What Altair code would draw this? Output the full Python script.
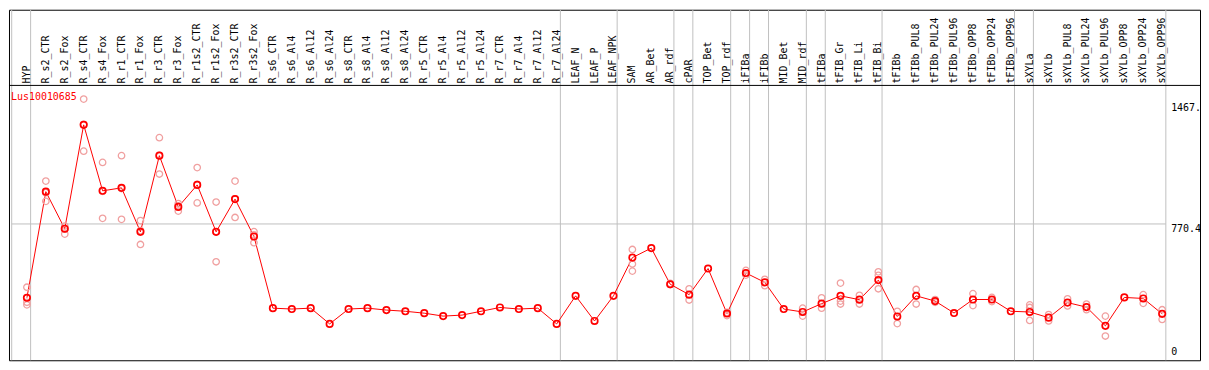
import altair as alt
import pandas as pd

gene = "Lus10010685"

categories = [
    "HYP", "R_s2_CTR", "R_s2_Fox", "R_s4_CTR", "R_s4_Fox", "R_r1_CTR", "R_r1_Fox",
    "R_r3_CTR", "R_r3_Fox", "R_r1s2_CTR", "R_r1s2_Fox", "R_r3s2_CTR", "R_r3s2_Fox",
    "R_s6_CTR", "R_s6_Al4", "R_s6_Al12", "R_s6_Al24", "R_s8_CTR", "R_s8_Al4",
    "R_s8_Al12", "R_s8_Al24", "R_r5_CTR", "R_r5_Al4", "R_r5_Al12", "R_r5_Al24",
    "R_r7_CTR", "R_r7_Al4", "R_r7_Al12", "R_r7_Al24", "LEAF_N", "LEAF_P", "LEAF_NPK",
    "SAM", "AR_Bet", "AR_rdf", "cPAR", "TOP_Bet", "TOP_rdf", "iFIBa", "iFIBb",
    "MID_Bet", "MID_rdf", "tFIBa", "tFIB_Gr", "tFIB_Li", "tFIB_Bi", "tFIBb",
    "tFIBb_PUL8", "tFIBb_PUL24", "tFIBb_PUL96", "tFIBb_OPP8", "tFIBb_OPP24",
    "tFIBb_OPP96", "sXYLa", "sXYLb", "sXYLb_PUL8", "sXYLb_PUL24", "sXYLb_PUL96",
    "sXYLb_OPP8", "sXYLb_OPP24", "sXYLb_OPP96",
]

mean_values = [
    344, 957, 743, 1343, 962, 979, 725, 1165, 869, 996, 725, 914, 698,
    284, 279, 284, 193, 279, 284, 273, 266, 255, 238, 244, 266, 288, 279, 284, 193,
    355, 210, 355,
    576, 631, 422, 362, 513, 253, 487, 433, 279, 262,
    310, 355, 333, 446, 236, 355, 325, 256, 334, 334, 266,
    262, 229, 316, 290, 182, 346, 340, 251,
]

rep_index = [
    0, 0, 0, 1, 1, 1, 2, 2, 2, 3, 3, 3, 4, 4, 4, 5, 5, 5, 6, 6, 6,
    7, 7, 7, 8, 8, 8, 9, 9, 9, 10, 10, 10, 11, 11, 11, 12, 12, 12,
    32, 32, 32, 34, 34, 35, 35, 37, 37, 38, 38, 39, 39, 41, 41,
    42, 42, 43, 43, 43, 44, 44, 45, 45, 45, 46, 46, 47, 47, 48, 48,
    50, 50, 51, 51, 53, 53, 53, 54, 54, 55, 55, 56, 56, 57, 57, 59, 59, 60, 60,
]
rep_values = [
    405, 318, 303, 1018, 951, 901, 758, 741, 712, 1492, 1346, 1191, 1126, 959, 803,
    1165, 975, 797, 790, 732, 652, 1269, 1166, 1059, 888, 875, 845, 1096, 999, 892,
    897, 725, 552, 1018, 916, 808, 726, 708, 662,
    623, 539, 498, 427, 420, 396, 331, 259, 241, 502, 475, 451, 414, 284, 238,
    344, 284, 429, 325, 308, 358, 308, 494, 474, 396, 266, 195, 392, 308, 334, 318,
    368, 299, 346, 322, 303, 288, 213, 247, 210, 338, 297, 308, 275, 238, 123,
    362, 312, 275, 219,
]

separator_after = [-1, 0, 28, 31, 34, 35, 37, 38, 39, 41, 42, 45, 52, 53, 60]

tick_values = [1467.0, 770.4]
tick_labels = ["1467.", "770.4"]
zero_value = [0.0]
zero_label = ["0"]
grid_values = [770.4]

W, H = 1196, 352
xs = alt.Scale(domain=[-0.947368, 62.0], nice=False, zero=False)
ys = alt.Scale(domain=[-17.0, 2008.0], nice=False, zero=False)

means_df = pd.DataFrame({"i": list(range(len(categories))), "cat": categories, "v": mean_values})
reps_df = pd.DataFrame({"i": rep_index, "v": rep_values})
sep_df = pd.DataFrame({"x": [s + 0.195 for s in separator_after]})
grid_df = pd.DataFrame({"x": [separator_after[0] + 0.195] * len(grid_values),
                        "x2": [separator_after[-1] + 0.195] * len(grid_values),
                        "v": grid_values})
ticks_df = pd.DataFrame({"v": tick_values, "t": tick_labels})
zero_df = pd.DataFrame({"v": zero_value, "t": zero_label})
one_df = pd.DataFrame({"t": [gene]})

X = lambda f: alt.X(f, scale=xs, axis=None)
Y = lambda f: alt.Y(f, scale=ys, axis=None)

vlines = alt.Chart(sep_df).mark_rule(color="#c0c0c0", strokeWidth=1).encode(
    x=X("x:Q"), y=alt.value(0), y2=alt.value(H))
hgrid = alt.Chart(grid_df).mark_rule(color="#c0c0c0", strokeWidth=1).encode(
    x=X("x:Q"), x2="x2:Q", y=Y("v:Q"))
header_line = alt.Chart(one_df).mark_rule(color="black", strokeWidth=1).encode(
    x=alt.value(0), x2=alt.value(W), y=alt.value(76))
line = alt.Chart(means_df).mark_line(color="red", strokeWidth=1).encode(
    x=X("i:Q"), y=Y("v:Q"), order="i:Q")
reps = alt.Chart(reps_df).mark_point(shape="circle", filled=False, color="#f0a0a0",
                                      size=42, strokeWidth=1.3, opacity=1).encode(
    x=X("i:Q"), y=Y("v:Q"))
mean_pts = alt.Chart(means_df).mark_point(shape="circle", filled=False, color="red",
                                          size=42, strokeWidth=1.7, opacity=1).encode(
    x=X("i:Q"), y=Y("v:Q"))
labels = alt.Chart(means_df).mark_text(angle=270, align="left", baseline="middle",
                                       font="DejaVu Sans Mono", fontSize=10,
                                       color="black").encode(
    x=X("i:Q"), y=alt.value(74), text="cat:N")
ticks = alt.Chart(ticks_df).mark_text(align="left", baseline="top",
                                      font="DejaVu Sans Mono", fontSize=10,
                                      color="black").encode(
    x=alt.value(1167), y=Y("v:Q"), text="t:N")
zero = alt.Chart(zero_df).mark_text(align="left", baseline="bottom",
                                    font="DejaVu Sans Mono", fontSize=10,
                                    color="black").encode(
    x=alt.value(1167), y=Y("v:Q"), text="t:N")
title = alt.Chart(one_df).mark_text(align="left", baseline="middle",
                                    font="DejaVu Sans Mono", fontSize=10,
                                    color="red").encode(
    x=alt.value(2), y=alt.value(88), text="t:N")

chart = alt.layer(vlines, hgrid, header_line, line, reps, mean_pts,
                  labels, ticks, zero, title).properties(
    width=W, height=H,
    padding={"left": 1, "top": 1, "right": 1, "bottom": 1},
    autosize=alt.AutoSizeParams(type="none"),
).configure_view(stroke="black", strokeWidth=1)

chart.save("out.html", embed_options={"renderer": "svg", "actions": False})
